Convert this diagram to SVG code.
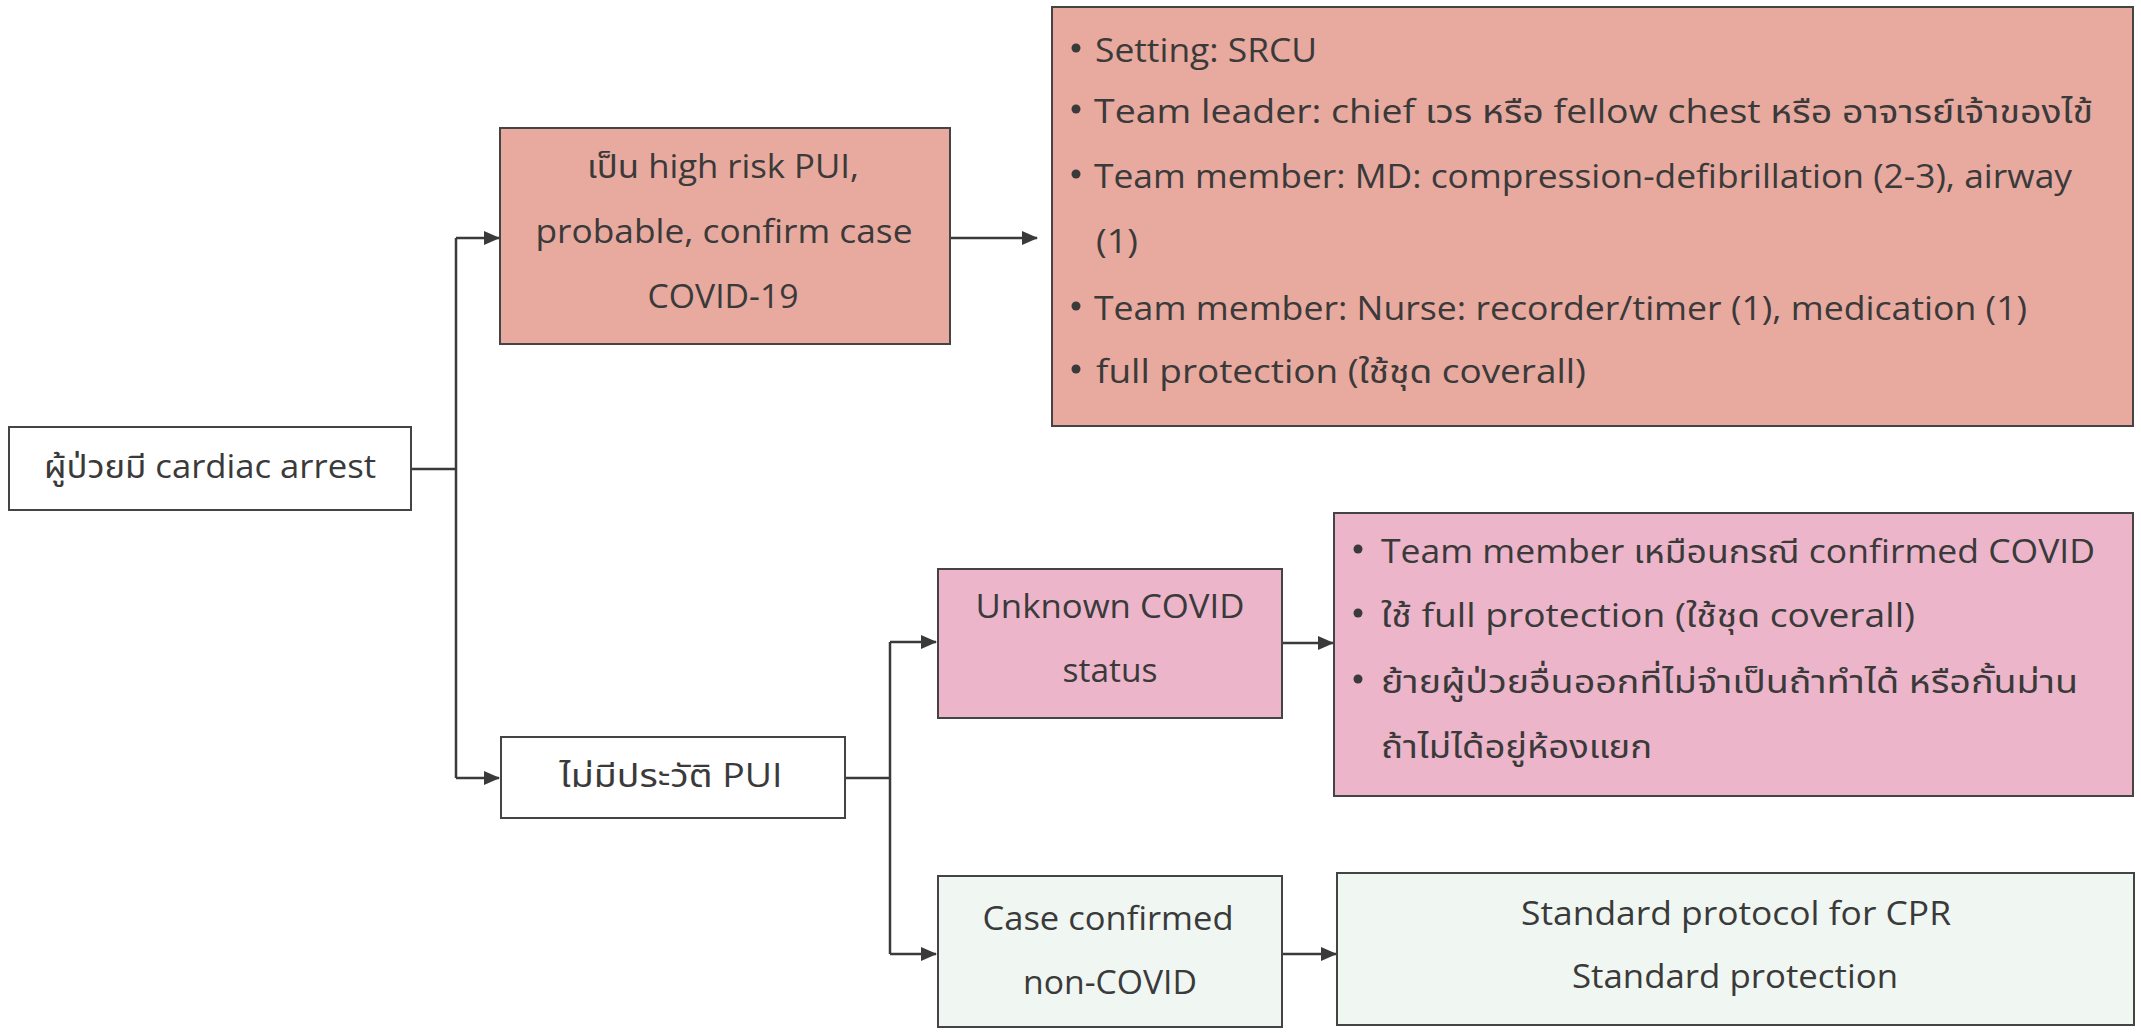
<svg xmlns="http://www.w3.org/2000/svg" width="2141" height="1033" viewBox="0 0 2141 1033">
  <style>
    .box { stroke: #444; stroke-width: 2; }
    .plain { fill: #ffffff; }
    .salmon { fill: #e8a99f; }
    .pink { fill: #ecb5ca; }
    .mint { fill: #f0f6f2; }
    text { font-family: "Open Sans", "Noto Sans Thai", "Leelawadee UI", Tahoma, "Noto Sans", sans-serif; font-size: 32px; fill: #3a3a3a; }
    .c { text-anchor: middle; }
    .wire { fill: none; stroke: #3a3a3a; stroke-width: 2.5; }
    .dot { fill: #3a3a3a; }
  </style>
  <defs>
    <marker id="arrow" markerUnits="userSpaceOnUse" markerWidth="16" markerHeight="14" refX="15" refY="7" orient="auto">
      <path d="M0,0 L16,7 L0,14 Z" fill="#3a3a3a"/>
    </marker>
  </defs>
  <rect width="2141" height="1033" fill="#ffffff"/>

  <!-- connectors -->
  <g id="connectors">
    <path class="wire" d="M411,469 H456 M456,238 V778"/>
    <path class="wire" d="M456,238 H499" marker-end="url(#arrow)"/>
    <path class="wire" d="M456,778 H499" marker-end="url(#arrow)"/>
    <path class="wire" d="M950,238 H1037" marker-end="url(#arrow)"/>
    <path class="wire" d="M845,778 H890 M890,642 V954"/>
    <path class="wire" d="M890,642 H936" marker-end="url(#arrow)"/>
    <path class="wire" d="M890,954 H936" marker-end="url(#arrow)"/>
    <path class="wire" d="M1282,643 H1333" marker-end="url(#arrow)"/>
    <path class="wire" d="M1282,954 H1336" marker-end="url(#arrow)"/>
  </g>

  <!-- start node -->
  <g id="patient">
    <rect class="box plain" x="9" y="427" width="402" height="83"/>
    <text class="c" x="210" y="478" textLength="332" lengthAdjust="spacingAndGlyphs">ผู้ป่วยมี cardiac arrest</text>
  </g>

  <!-- high-risk branch -->
  <g id="high-risk">
    <rect class="box salmon" x="500" y="128" width="450" height="216"/>
    <text class="c" x="723" y="178" textLength="272" lengthAdjust="spacingAndGlyphs">เป็น high risk PUI,</text>
    <text class="c" x="724" y="243" textLength="377" lengthAdjust="spacingAndGlyphs">probable, confirm case</text>
    <text class="c" x="723" y="308" textLength="151" lengthAdjust="spacingAndGlyphs">COVID-19</text>
  </g>

  <g id="high-risk-plan">
    <rect class="box salmon" x="1052" y="7" width="1081" height="419"/>
    <circle class="dot" cx="1076" cy="48" r="4.5"/>
    <text x="1095" y="62" textLength="222" lengthAdjust="spacingAndGlyphs">Setting: SRCU</text>
    <circle class="dot" cx="1076" cy="109" r="4.5"/>
    <text x="1094" y="123" textLength="999" lengthAdjust="spacingAndGlyphs">Team leader: chief เวร หรือ fellow chest หรือ อาจารย์เจ้าของไข้</text>
    <circle class="dot" cx="1076" cy="174" r="4.5"/>
    <text x="1094" y="188" textLength="978" lengthAdjust="spacingAndGlyphs">Team member: MD: compression-defibrillation (2-3), airway</text>
    <text x="1096" y="253" textLength="42" lengthAdjust="spacingAndGlyphs">(1)</text>
    <circle class="dot" cx="1076" cy="306" r="4.5"/>
    <text x="1094" y="320" textLength="933" lengthAdjust="spacingAndGlyphs">Team member: Nurse: recorder/timer (1), medication (1)</text>
    <circle class="dot" cx="1076" cy="369" r="4.5"/>
    <text x="1096" y="383" textLength="490" lengthAdjust="spacingAndGlyphs">full protection (ใช้ชุด coverall)</text>
  </g>

  <!-- no PUI history branch -->
  <g id="no-pui">
    <rect class="box plain" x="501" y="737" width="344" height="81"/>
    <text class="c" x="671" y="787" textLength="223" lengthAdjust="spacingAndGlyphs">ไม่มีประวัติ PUI</text>
  </g>

  <g id="unknown-status">
    <rect class="box pink" x="938" y="569" width="344" height="149"/>
    <text class="c" x="1110" y="618" textLength="269" lengthAdjust="spacingAndGlyphs">Unknown COVID</text>
    <text class="c" x="1110" y="682" textLength="95" lengthAdjust="spacingAndGlyphs">status</text>
  </g>

  <g id="unknown-plan">
    <rect class="box pink" x="1334" y="513" width="799" height="283"/>
    <circle class="dot" cx="1358" cy="549" r="4.5"/>
    <text x="1381" y="563" textLength="714" lengthAdjust="spacingAndGlyphs">Team member เหมือนกรณี confirmed COVID</text>
    <circle class="dot" cx="1358" cy="613" r="4.5"/>
    <text x="1381" y="627" textLength="534" lengthAdjust="spacingAndGlyphs">ใช้ full protection (ใช้ชุด coverall)</text>
    <circle class="dot" cx="1358" cy="679" r="4.5"/>
    <text x="1381" y="693" textLength="697" lengthAdjust="spacingAndGlyphs">ย้ายผู้ป่วยอื่นออกที่ไม่จำเป็นถ้าทำได้ หรือกั้นม่าน</text>
    <text x="1381" y="758" textLength="271" lengthAdjust="spacingAndGlyphs">ถ้าไม่ได้อยู่ห้องแยก</text>
  </g>

  <g id="non-covid">
    <rect class="box mint" x="938" y="876" width="344" height="151"/>
    <text class="c" x="1108" y="930" textLength="251" lengthAdjust="spacingAndGlyphs">Case confirmed</text>
    <text class="c" x="1110" y="994" textLength="174" lengthAdjust="spacingAndGlyphs">non-COVID</text>
  </g>

  <g id="non-covid-plan">
    <rect class="box mint" x="1337" y="873" width="797" height="152"/>
    <text class="c" x="1736" y="925" textLength="430" lengthAdjust="spacingAndGlyphs">Standard protocol for CPR</text>
    <text class="c" x="1735" y="988" textLength="326" lengthAdjust="spacingAndGlyphs">Standard protection</text>
  </g>
</svg>
